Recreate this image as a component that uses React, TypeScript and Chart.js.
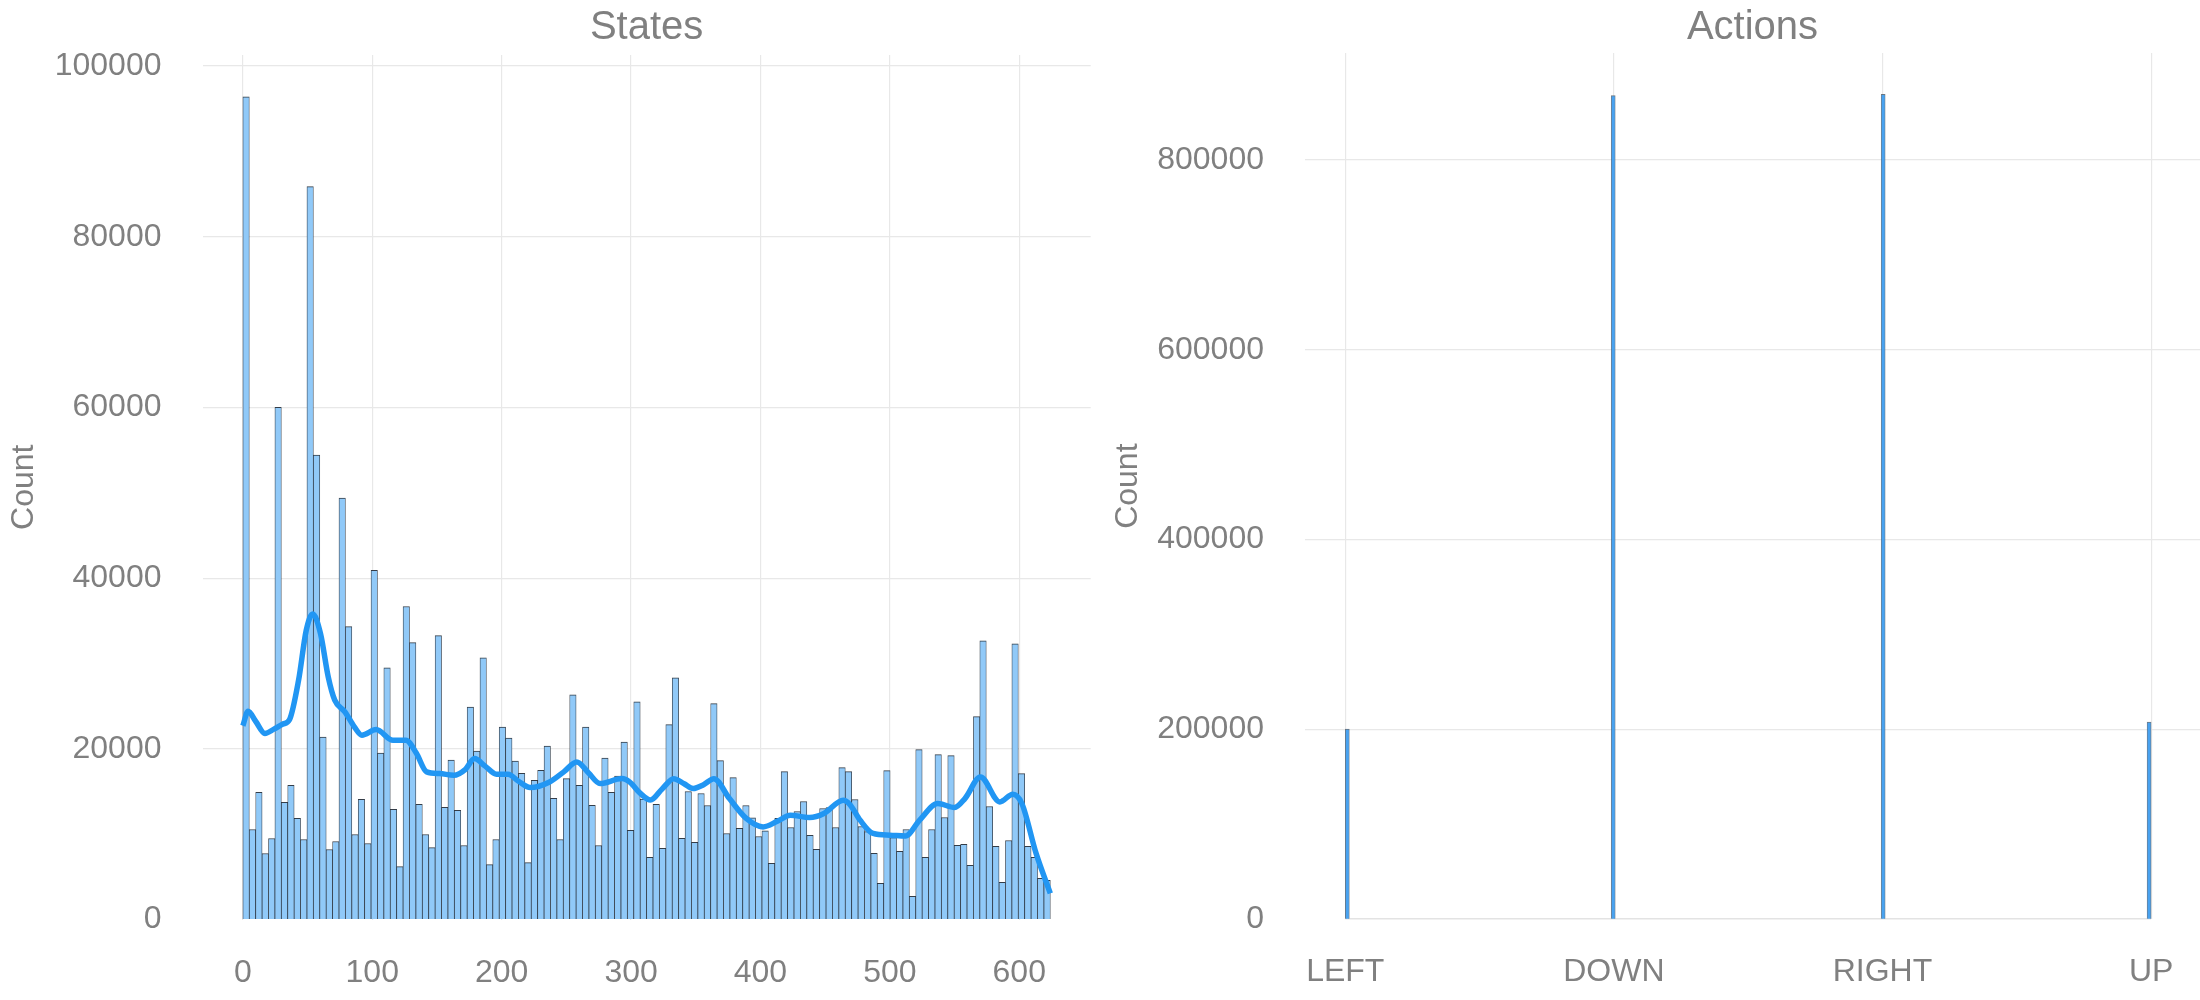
import { useEffect, useRef } from 'react';
import Chart from 'chart.js/auto';
import { ChartConfiguration } from 'chart.js';

// States histogram: 126 bins over 0..624
const STATE_MIN = 0;
const STATE_MAX = 624;
const STATE_COUNTS = [
  96400, 10550, 14900, 7730, 9490, 60020, 13730, 15730, 11840, 9370,
  85870, 54400, 21370, 8200, 9140, 49380, 34310, 9960, 14080, 8900,
  40900, 19490, 29490, 12900, 6200, 36670, 32440, 13490, 9960, 8430,
  33260, 13140, 18670, 12790, 8670, 24900, 19730, 30670, 6430, 9370,
  22550, 21260, 18550, 17140, 6670, 16320, 17490, 20320, 14200, 9370,
  16500, 26320, 15730, 22550, 13380, 8670, 18900, 14900, 16790, 20790,
  10440, 25490, 14100, 7280, 13480, 8330, 22830, 28330, 9500, 15000,
  9030, 14760, 13360, 25290, 18620, 10080, 16630, 10670, 13360, 11900,
  9730, 10400, 6570, 11840, 17330, 10780, 12650, 13830, 9850, 8210,
  13010, 13120, 10780, 17800, 17330, 14060, 10900, 10300, 7740, 4230,
  17450, 9600, 7980, 10550, 2710, 19900, 7280, 10550, 19320, 11950,
  19200, 8680, 8800, 6340, 23770, 32650, 13240, 8560, 4350, 9260,
  32300, 17100, 8560, 7280, 4820, 4580,
];

// KDE curve (scaled to counts)
const KDE_X = [
  0, 4, 10, 17, 24, 31, 36, 43, 49, 54, 60, 66, 71, 79, 86, 92, 103, 116, 126, 134,
  142, 152, 163, 172, 179, 187, 196, 205, 213, 222, 237, 248, 258, 267, 276, 293, 299, 307, 315, 324,
  333, 341, 348, 356, 364, 376, 389, 402, 413, 423, 438, 449, 464, 469, 477, 487, 500, 512, 523, 537,
  550, 558, 570, 585, 595, 602, 613, 624,
];
const KDE_Y = [
  22700, 24400, 23200, 21800, 22300, 22900, 23400, 28000, 33900, 35800, 33500, 28400, 25700, 24300, 22600, 21600, 22250, 21000, 21000, 19500,
  17300, 17100, 16900, 17600, 18850, 18000, 17020, 17020, 16200, 15460, 16120, 17300, 18460, 17200, 15930, 16510, 16100, 14800, 14000, 15300,
  16500, 15900, 15350, 15800, 16500, 14170, 11840, 10850, 11500, 12220, 11950, 12420, 13980, 13500, 11640, 10080, 9880, 9770, 11640, 13590,
  13120, 14170, 16700, 13780, 14680, 13590, 7740, 3060,
];

const STATE_X_TICKS = [0, 100, 200, 300, 400, 500, 600];
const STATE_Y_TICKS = [0, 20000, 40000, 60000, 80000, 100000];

// Actions histogram
const ACTION_LABELS = ['LEFT', 'DOWN', 'RIGHT', 'UP'];
const ACTION_COUNTS = [200300, 867800, 869200, 207700];
const ACTION_BINS = 200;
const ACTION_Y_TICKS = [0, 200000, 400000, 600000, 800000];

const FONT = '"Liberation Sans", Arial, sans-serif';
const TEXT = '#808080';
const GRID = '#e8e8e8';

const binWidth = (STATE_MAX - STATE_MIN) / STATE_COUNTS.length;
const stateBars = STATE_COUNTS.map((y, i) => ({ x: STATE_MIN + (i + 0.5) * binWidth, y }));
const kdePoints = KDE_X.map((x, i) => ({ x, y: KDE_Y[i] }));

const actionBinWidth = (ACTION_LABELS.length - 1) / ACTION_BINS;
const actionBars = ACTION_COUNTS.map((y, i) => {
  const bin = Math.min(Math.floor(i / actionBinWidth), ACTION_BINS - 1);
  return { x: (bin + 0.5) * actionBinWidth, y };
});
const actionBaseline = [
  { x: 0, y: 0 },
  { x: ACTION_LABELS.length - 1, y: 0 },
];

const setTicks = (values: number[]) => (axis: any) => {
  axis.ticks = values.map((value) => ({ value }));
};

const fixSize = (prop: 'width' | 'height', size: number) => (axis: any) => {
  axis[prop] = size;
  axis.paddingTop = 0;
  axis.paddingBottom = 0;
  axis.paddingLeft = 0;
  axis.paddingRight = 0;
};

const hideZero = (ctx: any) => (ctx.tick && ctx.tick.value === 0 ? 'rgba(0,0,0,0)' : GRID);

function buildOptions(o: {
  title: string;
  xMin: number;
  xMax: number;
  xTicks: number[];
  xLabel?: (v: number) => string;
  yMax: number;
  yTicks: number[];
  yWidth: number;
  xHeight: number;
  titleBottom: number;
  countPad: number;
  rightPad: number;
}): any {
  return {
    responsive: false,
    devicePixelRatio: 1,
    animation: false,
    layout: { padding: { left: 0, right: o.rightPad, top: 0, bottom: 0 } },
    plugins: {
      legend: { display: false },
      tooltip: { enabled: false },
      title: {
        display: true,
        text: o.title,
        color: TEXT,
        fullSize: false,
        font: { family: FONT, size: 40, weight: 'normal' },
        padding: { top: 4, bottom: o.titleBottom },
      },
    },
    scales: {
      x: {
        type: 'linear',
        min: o.xMin,
        max: o.xMax,
        offset: false,
        afterBuildTicks: setTicks(o.xTicks),
        afterFit: fixSize('height', o.xHeight),
        grid: { color: GRID, lineWidth: 1.2, drawTicks: false, offset: false },
        border: { display: false },
        ticks: {
          color: TEXT,
          font: { family: FONT, size: 32 },
          padding: 34,
          maxRotation: 0,
          autoSkip: false,
          callback: (v: number) => (o.xLabel ? o.xLabel(v) : String(v)),
        },
      },
      y: {
        min: 0,
        max: o.yMax,
        afterBuildTicks: setTicks(o.yTicks),
        afterFit: fixSize('width', o.yWidth),
        grid: { color: hideZero, lineWidth: 1.2, drawTicks: false },
        border: { display: false },
        ticks: {
          color: TEXT,
          font: { family: FONT, size: 32 },
          padding: 41,
          callback: (v: number) => String(v),
        },
        title: {
          display: true,
          text: 'Count',
          color: TEXT,
          font: { family: FONT, size: 32 },
          padding: { top: o.countPad, bottom: 0 },
        },
      },
    },
  };
}

const statesConfig: ChartConfiguration = {
  type: 'bar',
  data: {
    datasets: [
      {
        type: 'line',
        data: kdePoints,
        borderColor: '#2196f3',
        borderWidth: 5.5,
        pointRadius: 0,
        cubicInterpolationMode: 'monotone',
        fill: false,
        order: 0,
      } as any,
      {
        type: 'bar',
        data: stateBars,
        backgroundColor: '#90c9f8',
        borderColor: 'rgba(30,40,52,0.9)',
        borderWidth: { top: 1, left: 0.75, right: 0.75, bottom: 0 },
        borderSkipped: false,
        barPercentage: 1,
        categoryPercentage: 1,
        order: 1,
      } as any,
    ],
  },
  options: buildOptions({
    title: 'States',
    xMin: -31.2,
    xMax: 655.2,
    xTicks: STATE_X_TICKS,
    yMax: 101290,
    yTicks: STATE_Y_TICKS,
    yWidth: 202.5,
    xHeight: 80.5,
    titleBottom: 3,
    countPad: 5,
    rightPad: 9.3,
  }),
};

const actionsConfig: ChartConfiguration = {
  type: 'bar',
  data: {
    datasets: [
      {
        type: 'line',
        data: actionBaseline,
        borderColor: '#c8c8c8',
        borderWidth: 1.5,
        pointRadius: 0,
        fill: false,
        order: 1,
      } as any,
      {
        type: 'bar',
        data: actionBars,
        backgroundColor: '#48a2f0',
        borderColor: 'rgba(50,62,75,0.7)',
        borderWidth: { top: 1, left: 0.8, right: 0.8, bottom: 0 },
        borderSkipped: false,
        barThickness: 4,
        order: 0,
      } as any,
    ],
  },
  options: buildOptions({
    title: 'Actions',
    xMin: -0.15,
    xMax: 3.182,
    xTicks: [0, 1, 2, 3],
    xLabel: (v) => ACTION_LABELS[Math.round(v)] ?? '',
    yMax: 912700,
    yTicks: ACTION_Y_TICKS,
    yWidth: 205,
    xHeight: 80.7,
    titleBottom: 1,
    countPad: 9,
    rightPad: 0,
  }),
};

function HistChart({ config, left }: { config: ChartConfiguration; left: number }) {
  const canvasRef = useRef<HTMLCanvasElement>(null);

  useEffect(() => {
    if (!canvasRef.current) return;
    const chart = new Chart(canvasRef.current, config);
    return () => chart.destroy();
  }, [config]);

  return (
    <div style={{ position: 'fixed', top: 0, left, width: 1100, height: 1000 }}>
      <canvas ref={canvasRef} width={1100} height={1000} style={{ width: 1100, height: 1000 }} />
    </div>
  );
}

export default function App() {
  return (
    <div style={{ position: 'fixed', inset: 0, width: 2200, height: 1000, background: '#fff' }}>
      <HistChart config={statesConfig} left={0} />
      <HistChart config={actionsConfig} left={1100} />
    </div>
  );
}
